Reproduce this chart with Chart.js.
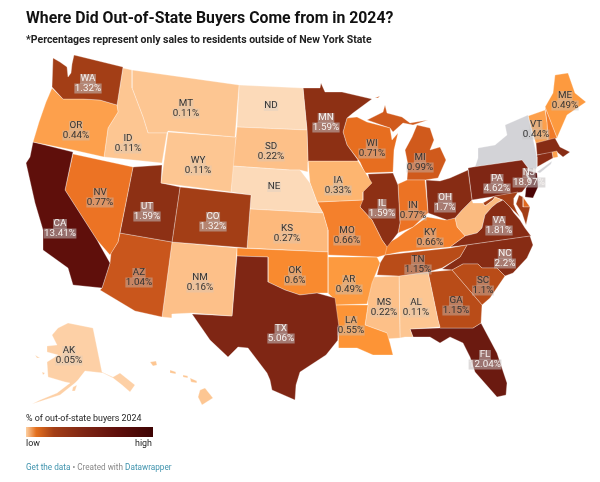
<!DOCTYPE html>
<html><head><meta charset="utf-8">
<script src="https://cdn.jsdelivr.net/npm/chart.js@4"></script>
<style>
html,body{margin:0;padding:0;background:#fff;width:600px;height:482px;overflow:hidden;font-family:Roboto,sans-serif}
#wrap{position:relative;width:600px;height:482px}
#c{position:absolute;left:0;top:0}
.t{position:absolute;white-space:nowrap;color:#1d1d1d}
#title{left:26px;top:8px;font-size:15.8px;font-weight:700;color:#111}
#sub{left:26px;top:33px;font-size:10.5px;font-weight:700;color:#222}
#lt{left:26px;top:413px;font-size:8.9px}
#bar{position:absolute;left:26px;top:427px;width:127px;height:10px;background:linear-gradient(90deg,#fdd0a2,#e3701f 8%,#a33e16 22%,#7f2614 45%,#5f0f0b 72%,#3d0303)}
#lo{left:26px;top:438px;font-size:8.9px}
#hi{left:135px;top:438px;font-size:8.9px}
#ft{left:26px;top:462px;font-size:8.2px;color:#888}
#ft b{font-weight:400;color:#3f93ad}
</style></head><body><div id="wrap">
<canvas id="c" width="600" height="482"></canvas>
<div class="t" id="title">Where Did Out-of-State Buyers Come from in 2024?</div>
<div class="t" id="sub">*Percentages represent only sales to residents outside of New York State</div>
<div class="t" id="lt">% of out-of-state buyers 2024</div>
<div id="bar"></div>
<div class="t" id="lo">low</div><div class="t" id="hi">high</div>
<div class="t" id="ft"><b>Get the data</b> • Created with <b>Datawrapper</b></div>
</div>
<script>
// state outlines, in map units
const WA=[[74,55],[123,67],[117,105],[100,100],[83,99],[63,99],[52,87],[53,58],[60,62],[67,67],[68,77],[71,73],[72,64]];
const OR=[[52,88],[63,99],[83,99],[100,100],[117,105],[118,112],[108,128],[104,157],[73,150],[33,142],[39,122],[46,102]];
const CA=[[33,142],[73,152],[65,190],[97,240],[110,263],[102,288],[73,285],[68,268],[43,250],[43,230],[35,203],[26,163],[30,157]];
const NV=[[73,154],[133,167],[120,232],[118,242],[110,255],[97,240],[65,190]];
const ID=[[123,68],[132,70],[132,88],[143,117],[148,133],[167,133],[162,163],[104,157],[108,128],[118,112],[117,105]];
const MT=[[132,70],[239,85],[235,137],[168,131],[167,133],[148,133],[143,117],[132,88]];
const WY=[[168,132],[236,137],[231,192],[161,183]];
const UT=[[133,167],[162,165],[161,183],[180,187],[172,242],[120,233]];
const CO=[[180,187],[251,195],[247,248],[172,242]];
const AZ=[[120,233],[172,242],[162,317],[135,311],[100,290],[102,288],[110,263],[111,253],[118,242]];
const NM=[[172,242],[237,248],[232,316],[192,313],[172,314],[172,318],[162,317]];
const TX=[[237,256],[268,257],[268,282],[285,290],[300,295],[317,293],[335,298],[339,327],[338,340],[326,355],[300,372],[296,385],[295,400],[272,390],[270,380],[267,373],[248,348],[238,347],[228,357],[210,340],[192,314],[232,316]];
const OK=[[237,248],[328,252],[328,293],[317,293],[300,295],[285,290],[268,282],[268,257],[237,256]];
const KS=[[250,209],[323,213],[328,230],[328,252],[247,248]];
const NE=[[232,166],[290,170],[300,170],[310,183],[317,202],[323,213],[250,209],[251,195],[231,192]];
const SD=[[237,127],[307,130],[308,162],[308,172],[300,170],[290,170],[232,166],[236,137]];
const ND=[[239,85],[303,88],[307,130],[237,127]];
const MN=[[303,88],[320,88],[321,83],[325,92],[342,92],[372,99],[353,113],[347,118],[343,132],[347,145],[358,160],[358,161],[308,161],[307,130]];
const IA=[[308,161],[358,161],[372,183],[363,192],[363,200],[317,202],[310,183]];
const MO=[[317,202],[363,200],[360,207],[372,220],[382,240],[387,247],[385,255],[378,257],[328,255],[328,230],[323,213]];
const AR=[[328,257],[377,257],[380,263],[372,283],[367,304],[334,305],[333,298],[328,293]];
const LA=[[334,305],[368,305],[365,325],[387,333],[390,343],[393,355],[373,355],[357,348],[338,348],[338,340],[339,327]];
const WI=[[347,118],[357,117],[367,122],[390,128],[392,140],[398,133],[394,150],[393,172],[365,173],[360,162],[347,145],[343,132]];
const IL=[[368,174],[393,173],[398,185],[400,223],[398,233],[387,247],[382,240],[372,220],[360,207],[363,190],[370,183]];
const IN=[[398,184],[407,180],[425,180],[428,213],[413,227],[398,233],[400,223]];
const MIU=[[367,120],[383,112],[385,105],[387,113],[402,117],[410,123],[428,120],[413,125],[403,123],[393,132],[390,128]];
const MIL=[[417,125],[430,128],[434,140],[430,150],[440,147],[446,160],[438,178],[425,180],[407,180],[408,165],[405,150],[412,137]];
const OH=[[426,180],[440,181],[450,178],[468,170],[472,200],[462,210],[455,218],[447,220],[428,213]];
const KY=[[385,255],[383,246],[397,238],[405,232],[413,227],[427,217],[445,220],[455,218],[457,227],[465,236],[450,247],[400,252]];
const TN=[[385,255],[450,248],[467,245],[460,257],[442,268],[428,272],[399,276],[377,275],[380,263]];
const MS=[[373,277],[399,276],[400,338],[385,339],[387,333],[365,325],[368,305],[367,297]];
const AL=[[399,276],[428,272],[438,320],[440,327],[410,329],[413,337],[405,337],[400,338]];
const GA=[[428,272],[452,270],[482,305],[481,323],[473,328],[440,328],[438,320]];
const FL=[[410,329],[440,328],[473,328],[481,323],[497,353],[507,383],[506,395],[497,397],[475,372],[470,357],[463,343],[450,337],[440,343],[430,337],[413,337]];
const SC=[[452,270],[463,264],[478,264],[482,268],[497,268],[505,276],[490,298],[482,305]];
const NC=[[467,245],[530,236],[533,245],[527,258],[513,273],[505,276],[497,268],[482,268],[478,264],[463,264],[452,270],[442,269],[460,257]];
const VA=[[450,247],[465,236],[477,233],[482,228],[485,215],[492,207],[497,203],[503,200],[510,207],[514,213],[520,220],[525,228],[531,236],[467,245]];
const WV=[[472,200],[473,203],[483,203],[485,206],[493,200],[495,197],[502,200],[497,203],[492,207],[485,215],[482,228],[477,233],[465,236],[457,227],[455,218],[462,210]];
const MD=[[483,203],[495,196],[518,192],[514,198],[514,205],[517,212],[520,217],[510,207],[503,200],[495,197],[493,200],[485,206]];
const MDE=[[519,195],[523,197],[523,207],[530,207],[526,225],[522,213],[516,204]];
const DE=[[523,197],[530,207],[523,207]];
const PA=[[468,168],[473,167],[522,160],[528,168],[526,175],[530,182],[522,192],[472,200]];
const NY=[[505,125],[528,115],[537,157],[537,168],[533,170],[528,168],[522,160],[475,167],[478,158],[478,148],[495,145],[507,135]];
const LI=[[537,172],[552,161],[551,164],[540,173]];
const NJ=[[525,170],[537,173],[538,187],[533,198],[525,197],[526,188],[531,180]];
const CT=[[537,155],[552,152],[553,158],[537,167]];
const RI=[[552,152],[557,151],[558,157],[553,158]];
const MA=[[536,143],[555,138],[560,147],[570,152],[563,157],[557,152],[537,155]];
const VT=[[528,116],[545,110],[547,123],[548,141],[536,144]];
const NH=[[545,107],[557,138],[548,141],[547,123]];
const ME=[[555,75],[568,73],[575,93],[586,102],[567,115],[557,138],[545,107],[553,93]];
const AK=[[68,323],[93,328],[102,372],[113,377],[120,373],[135,385],[130,392],[122,385],[113,378],[103,373],[85,371],[78,380],[75,383],[60,395],[32,404],[40,400],[57,393],[70,383],[65,382],[48,377],[47,362],[58,355],[47,352],[47,346],[57,345],[52,335],[58,328]];
const AK2=[[35,355],[40,358],[37,358]];
const AK3=[[42,372],[45,373],[43,375]];
const AK4=[[73,387],[77,385],[75,391],[72,391]];
const HI1=[[200,390],[205,388],[213,398],[202,405],[198,397]];
const HI2=[[190,378],[197,381],[197,383],[191,382]];
const HI3=[[170,370],[176,372],[176,374],[171,373]];
const HI4=[[150,362],[156,361],[157,365],[153,366]];
const HI5=[[183,375],[188,376],[188,378],[183,377]];
const ISLE=[[375,98],[380,96],[378,98]];

const outlines=[WA,OR,CA,NV,ID,MT,WY,UT,CO,AZ,NM,TX,OK,KS,NE,SD,ND,MN,IA,MO,AR,LA,WI,IL,IN,MIU,MIL,OH,KY,TN,MS,AL,GA,FL,SC,NC,VA,WV,MD,MDE,DE,PA,NY,LI,NJ,CT,RI,MA,VT,NH,ME,AK,AK2,AK3,AK4,HI1,HI2,HI3,HI4,HI5,ISLE];
const fills=['#a33e16','#fda04c','#5f0f0b','#ec7324','#fdc692','#fdc692','#fdc692','#8d3014','#a33e16','#c9561c','#fdc089','#7f2614','#f98a2f','#fdb97c','#fcdab9','#fdc088','#fcdab9','#8d3014','#fdb570','#f4802c','#fd9a3f','#fd9436','#e76e20','#8d3014','#ec7324','#d05a1c','#d05a1c','#872c14','#f4802c','#b94c18','#fdc088','#fdc692','#b94c18','#6b1a10','#b94c18','#872c14','#872c14','#fbbb80','#a33e16','#a33e16','#e0691f','#7f2614','#d3d3d7','#d3d3d7','#4b0505','#8a2c14','#fda04c','#872c14','#fda04c','#f07a28','#fd9a3f','#fdd0a6','#fdd0a6','#fdd0a6','#fdd0a6','#fdc692','#fdc692','#fdc692','#fdc692','#fdc692','#d05a1c'];

const labelStates=['WA','OR','CA','NV','ID','MT','WY','UT','CO','AZ','NM','TX','OK','KS','NE','SD','ND','MN','IA','MO','AR','LA','WI','IL','IN','MI','OH','KY','TN','MS','AL','GA','FL','SC','NC','VA','PA','NJ','VT','ME','AK'];
const labelValues=['1.32%','0.44%','13.41%','0.77%','0.11%','0.11%','0.11%','1.59%','1.32%','1.04%','0.16%','5.06%','0.6%','0.27%','','0.22%','','1.59%','0.33%','0.66%','0.49%','0.55%','0.71%','1.59%','0.77%','0.99%','1.7%','0.66%','1.15%','0.22%','0.11%','1.15%','12.04%','1.1%','2.2%','1.81%','4.62%','18.97%','0.44%','0.49%','0.05%'];
const labelX=[88,76,60,100,128,186,198,147,213,139,200,281,295,287,274,271,271,326,338,347,349,351,372,382,413,420,445,430,418,384,416,456,485,483,505,499,497,529,536,565,69];
const labelY=[79,126,224,193,139,104,161,207,217,273,278,329,271,229,187,147,106,118,181,231,280,321,144,204,206,158,198,233,260,303,303,301,355,281,254,221,179,173,125,96,351];

const labelPlugin={id:'stateLabels',afterDatasetsDraw(chart){
  const {ctx,scales:{x,y}}=chart;
  ctx.save();ctx.font='400 9.8px Roboto';ctx.textAlign='center';ctx.textBaseline='middle';
  labelStates.forEach((s,i)=>{
    const v=labelValues[i],px=x.getPixelForValue(labelX[i]),py=y.getPixelForValue(labelY[i]);
    const num=parseFloat(v)||0,light=num>=1.3;
    const lines=v?[[s,py],[v,py+9.5]]:[[s,py]];
    lines.forEach(([t,ly])=>{
      const w=ctx.measureText(t).width+1;
      ctx.fillStyle=light?'rgba(195,190,190,.55)':(num>=0.3?'rgba(195,195,195,.42)':'rgba(200,200,200,.28)');
      ctx.fillRect(px-w/2,ly-5,w,10);
    });
    ctx.fillStyle=light?'#f6f2f0':'#333';
    lines.forEach(([t,ly])=>ctx.fillText(t,px,ly));
  });
  ctx.restore();
}};

new Chart(document.getElementById('c'),{
  type:'scatter',
  data:{datasets:outlines.map((o,i)=>({
    data:o.concat([o[0]]).map(p=>({x:p[0],y:p[1]})),
    showLine:true,fill:'shape',tension:0,pointRadius:0,
    backgroundColor:fills[i],borderColor:'rgba(255,255,255,.6)',borderWidth:.5
  }))},
  plugins:[labelPlugin],
  options:{responsive:false,animation:false,devicePixelRatio:1,
    layout:{padding:0},
    plugins:{legend:{display:false},tooltip:{enabled:false},title:{display:false}},
    scales:{x:{type:'linear',min:0,max:600,display:false},y:{type:'linear',min:0,max:482,reverse:true,display:false}}
  }
});
</script></body></html>
